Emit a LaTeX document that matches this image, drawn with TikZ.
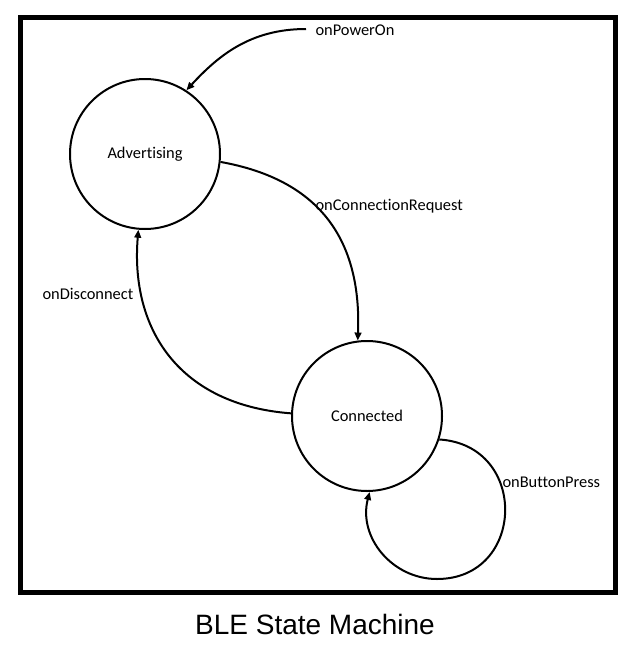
\documentclass[tikz,border=0pt]{standalone}
\usepackage{fontspec}
\setmainfont{Carlito}[Ligatures=NoCommon]
\newfontfamily\captionfont{Liberation Sans}
\usetikzlibrary{arrows.meta}

\tikzset{every picture/.style={line width=0.75pt}}
\tikzset{
  state/.style={circle, draw, line width=1.5pt, minimum size=112.5pt, inner sep=0pt, font=\fontsize{12.3}{14}\selectfont},
  trans/.style={line width=1.5pt, -{Triangle[length=6pt,width=5pt]}},
  lbl/.style={anchor=base west, inner sep=0pt, font=\fontsize{12.3}{14}\selectfont}
}

\begin{document}
\begin{tikzpicture}[x=0.75pt,y=0.75pt,yscale=-1,xscale=1]
\useasboundingbox (0,0) rectangle (631,653);

%Shape: Rectangle [frame]
\draw [line width=3.75pt] (20,17) rectangle (615,592) ;

%Shape: Circle [Advertising]
\node [state] (adv) at (145,154) {Advertising};
%Shape: Circle [Connected]
\node [state] (con) at (367,416) {Connected};

% Text Node
\node [lbl] (lblPwr) at (315,35) {onPowerOn};
% Text Node
\node [lbl] (lblReq) at (315,210) {onConnectionRequest};
% Text Node
\node [lbl] (lblDis) at (42,299) {onDisconnect};
% Text Node
\node [lbl] (lblBtn) at (502,487) {onButtonPress};

%Curve Lines [onPowerOn]
\coordinate (pwr) at (306,29);
\draw [trans] (pwr) .. controls (250,29) and (218,56) .. (adv.57) ;
%Curve Lines [onConnectionRequest]
\draw [trans] (adv.-6) .. controls (310,178) and (362,230) .. (con.97) ;
%Curve Lines [onDisconnect]
\draw [trans] (con.178) .. controls (180,405) and (130,330) .. (adv.265) ;
%Curve Lines [onButtonPress]
\draw [trans] (con.-18) .. controls (529,445) and (526,579) .. (437,579) .. controls (392,579) and (358,537) .. (con.-88) ;

% Text Node
\node [anchor=base, inner sep=0pt, font=\captionfont\fontsize{21}{25}\selectfont] (title) at (315,634) {BLE State Machine};

\end{tikzpicture}
\end{document}
